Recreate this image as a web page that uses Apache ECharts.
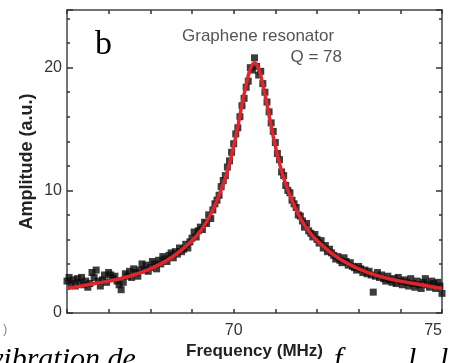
<!DOCTYPE html>
<html><head><meta charset="utf-8">
<script src="https://cdn.jsdelivr.net/npm/echarts@6/dist/echarts.min.js"></script>
<style>html,body{margin:0;padding:0;background:#fff;overflow:hidden}#c{width:449px;height:363px}</style>
</head><body><div id="c"></div>
<script>
const measured = [
[66.00,2.6],[66.05,2.9],[66.10,2.4],[66.15,2.7],[66.20,2.2],[66.25,2.8],[66.30,2.5],[66.35,2.9],[66.40,2.3],[66.45,2.6],
[66.50,2.1],[66.55,2.4],[66.60,3.3],[66.65,2.9],[66.70,3.5],[66.75,2.6],[66.80,2.2],[66.85,2.7],[66.90,3.1],[66.95,2.5],
[67.00,3.3],[67.05,3.1],[67.10,2.8],[67.15,3.0],[67.20,2.6],[67.25,2.3],[67.30,1.9],[67.35,2.5],[67.40,3.2],[67.45,3.0],
[67.50,3.4],[67.55,2.9],[67.60,3.6],[67.65,3.3],[67.70,3.0],[67.75,3.5],[67.80,4.0],[67.85,3.5],[67.90,3.9],[67.95,3.4],
[68.00,3.7],[68.05,4.2],[68.10,4.0],[68.15,3.6],[68.20,4.3],[68.25,4.0],[68.30,4.6],[68.35,4.4],[68.40,4.2],[68.45,4.7],
[68.50,4.9],[68.55,4.5],[68.60,5.0],[68.65,4.8],[68.70,5.3],[68.75,5.0],[68.80,5.2],[68.85,5.6],[68.90,5.3],[68.95,5.8],
[69.00,6.1],[69.05,6.6],[69.10,6.2],[69.15,6.7],[69.20,7.0],[69.25,6.8],[69.30,7.4],[69.35,7.3],[69.40,8.0],[69.45,7.7],
[69.50,8.4],[69.55,8.9],[69.60,9.2],[69.65,9.6],[69.70,10.3],[69.75,10.8],[69.80,11.2],[69.85,11.9],[69.90,12.4],[69.95,13.1],
[70.00,13.8],[70.05,14.6],[70.10,15.1],[70.15,16.0],[70.20,16.9],[70.25,17.5],[70.30,18.4],[70.35,18.9],[70.40,20.0],[70.45,19.8],
[70.50,20.8],[70.55,20.1],[70.60,19.4],[70.65,19.7],[70.70,18.7],[70.75,18.0],[70.80,17.2],[70.85,16.4],[70.90,15.5],[70.95,14.8],
[71.00,13.9],[71.05,13.0],[71.10,12.5],[71.15,11.5],[71.20,11.2],[71.25,10.4],[71.30,10.0],[71.35,9.8],[71.40,9.2],[71.45,8.9],
[71.50,8.6],[71.55,8.0],[71.60,7.9],[71.65,7.5],[71.70,7.0],[71.75,7.3],[71.80,6.7],[71.85,6.5],[71.90,6.2],[71.95,6.4],
[72.00,6.0],[72.05,5.7],[72.10,5.9],[72.15,5.3],[72.20,5.5],[72.25,5.0],[72.30,5.2],[72.35,4.9],[72.40,4.7],[72.45,4.4],
[72.50,4.6],[72.55,4.3],[72.60,4.1],[72.65,4.5],[72.70,4.2],[72.75,3.9],[72.80,4.1],[72.85,3.8],[72.90,3.7],[72.95,3.5],
[73.00,3.8],[73.05,3.6],[73.10,3.3],[73.15,3.5],[73.20,3.2],[73.25,3.4],[73.30,3.1],[73.35,1.7],[73.40,3.0],[73.45,3.3],
[73.50,2.9],[73.55,3.1],[73.60,2.8],[73.65,2.6],[73.70,3.0],[73.75,2.7],[73.80,2.5],[73.85,2.8],[73.90,2.4],[73.95,2.9],
[74.00,2.6],[74.05,2.3],[74.10,2.7],[74.15,2.5],[74.20,2.2],[74.25,2.8],[74.30,2.4],[74.35,2.1],[74.40,2.6],[74.45,2.3],
[74.50,2.0],[74.55,2.5],[74.60,2.8],[74.65,2.3],[74.70,2.1],[74.75,2.6],[74.80,2.4],[74.85,2.0],[74.90,2.5],[74.95,2.2],
[75.00,1.6]
];
// Fitted curve
const fitCurve = [
[66.0,2.0],[66.5,2.3],[67.0,2.6],[67.5,3.0],[68.0,3.6],[68.5,4.5],[69.0,5.9],[69.25,6.9],[69.5,8.4],[69.75,10.5],
[69.9,12.2],[70.0,13.6],[70.1,15.2],[70.2,17.0],[70.3,18.6],[70.4,19.9],[70.5,20.4],[70.6,19.9],[70.7,18.6],[70.8,17.0],
[70.9,15.2],[71.0,13.6],[71.1,12.2],[71.25,10.5],[71.5,8.4],[71.75,6.9],[72.0,5.9],[72.5,4.5],[73.0,3.6],[73.5,3.0],
[74.0,2.6],[74.5,2.3],[75.0,2.0]
];
const xTickLabels = [70, 75];
const yTickLabels = [0, 10, 20];
const xRange = [66, 75];
const yRange = [0, 24.7];

const chart = echarts.init(document.getElementById('c'), null, {renderer: 'canvas'});
const frame = {color: '#444', width: 1.5};
const tickStyle = {color: '#333', width: 1.5};
const sans = 'Liberation Sans, Arial, sans-serif';
const serif = 'Liberation Serif, Times New Roman, serif';

chart.setOption({
  animation: false,
  backgroundColor: '#fff',
  grid: {left: 67, right: 7, top: 10, bottom: 50, containLabel: false, outerBoundsMode: 'none'},
  xAxis: [
    {type: 'value', min: xRange[0], max: xRange[1], interval: 1, position: 'bottom',
     axisLine: {show: true, onZero: false, lineStyle: frame},
     axisTick: {show: true, inside: true, length: 4, lineStyle: tickStyle},
     axisLabel: {formatter: v => xTickLabels.includes(v) ? String(v) : '', color: '#333', fontSize: 16, margin: 10, fontFamily: sans, alignMaxLabel: 'right'},
     splitLine: {show: false},
     name: 'Frequency (MHz)', nameLocation: 'middle', nameGap: 30, nameMoveOverlap: false,
     nameTextStyle: {fontFamily: sans, fontWeight: 'bold', fontSize: 17, color: '#222', backgroundColor: '#fff', padding: [0, 4, 6, 4]}},
    {type: 'value', min: xRange[0], max: xRange[1], interval: 1, position: 'top',
     axisLine: {show: true, onZero: false, lineStyle: frame},
     axisTick: {show: true, inside: true, length: 4, lineStyle: tickStyle},
     axisLabel: {show: false}, splitLine: {show: false}}
  ],
  yAxis: [
    {type: 'value', min: yRange[0], max: yRange[1], interval: 2, position: 'left',
     axisLine: {show: true, onZero: false, lineStyle: frame},
     axisTick: {show: true, inside: true, length: 3, lineStyle: tickStyle},
     axisLabel: {formatter: v => yTickLabels.includes(v) ? String(v) : '', color: '#333', fontSize: 16, margin: 5, fontFamily: sans, showMaxLabel: false},
     splitLine: {show: false},
     name: 'Amplitude (a.u.)', nameLocation: 'middle', nameGap: 31, nameRotate: 90, nameMoveOverlap: false,
     nameTextStyle: {fontFamily: sans, fontWeight: 'bold', fontSize: 18, color: '#222'}},
    {type: 'value', min: yRange[0], max: yRange[1], interval: 2, position: 'right',
     axisLine: {show: true, onZero: false, lineStyle: frame},
     axisTick: {show: true, inside: true, length: 3, lineStyle: tickStyle},
     axisLabel: {show: false}, splitLine: {show: false}},
    {type: 'value', min: yRange[0], max: yRange[1], interval: 10, position: 'left',
     axisLine: {show: false},
     axisTick: {show: true, inside: true, length: 6, lineStyle: tickStyle},
     axisLabel: {show: false}, splitLine: {show: false}},
    {type: 'value', min: yRange[0], max: yRange[1], interval: 10, position: 'right',
     axisLine: {show: false},
     axisTick: {show: true, inside: true, length: 6, lineStyle: tickStyle},
     axisLabel: {show: false}, splitLine: {show: false}}
  ],
  series: [
    {type: 'scatter', data: measured, xAxisIndex: 0, yAxisIndex: 0, symbol: 'rect', symbolSize: 7,
     itemStyle: {color: '#0d0d0d'}, z: 2, silent: true},
    {type: 'line', data: fitCurve, xAxisIndex: 0, yAxisIndex: 0, smooth: 0.35, showSymbol: false,
     lineStyle: {color: '#e0262c', width: 3.5}, z: 3, silent: true}
  ],
  graphic: [
    {type: 'text', style: {x: 95, y: 45.5, text: 'b', font: '34px ' + serif, fill: '#000', verticalAlign: 'middle'}},
    {type: 'text', style: {x: 182, y: 36, text: 'Graphene resonator', font: '17px ' + sans, fill: '#555', verticalAlign: 'middle'}},
    {type: 'text', style: {x: 342, y: 57, text: 'Q = 78', font: '17px ' + sans, fill: '#555', align: 'right', verticalAlign: 'middle'}},
    {type: 'text', style: {x: 3, y: 329, text: ')', font: '13px ' + sans, fill: '#888', verticalAlign: 'middle'}},
    {type: 'text', z: -1, style: {x: -10, y: 360, text: 'vibration de', font: 'italic 30px ' + serif, fill: '#000', verticalAlign: 'middle'}},
    {type: 'text', z: -1, style: {x: 334, y: 360, text: 'f', font: 'italic 30px ' + serif, fill: '#000', verticalAlign: 'middle'}},
    {type: 'text', z: -1, style: {x: 408, y: 360, text: 'l', font: 'italic 30px ' + serif, fill: '#000', verticalAlign: 'middle'}},
    {type: 'text', z: -1, style: {x: 440, y: 360, text: 'l', font: 'italic 30px ' + serif, fill: '#000', verticalAlign: 'middle'}}
  ]
});
</script>
</body></html>
